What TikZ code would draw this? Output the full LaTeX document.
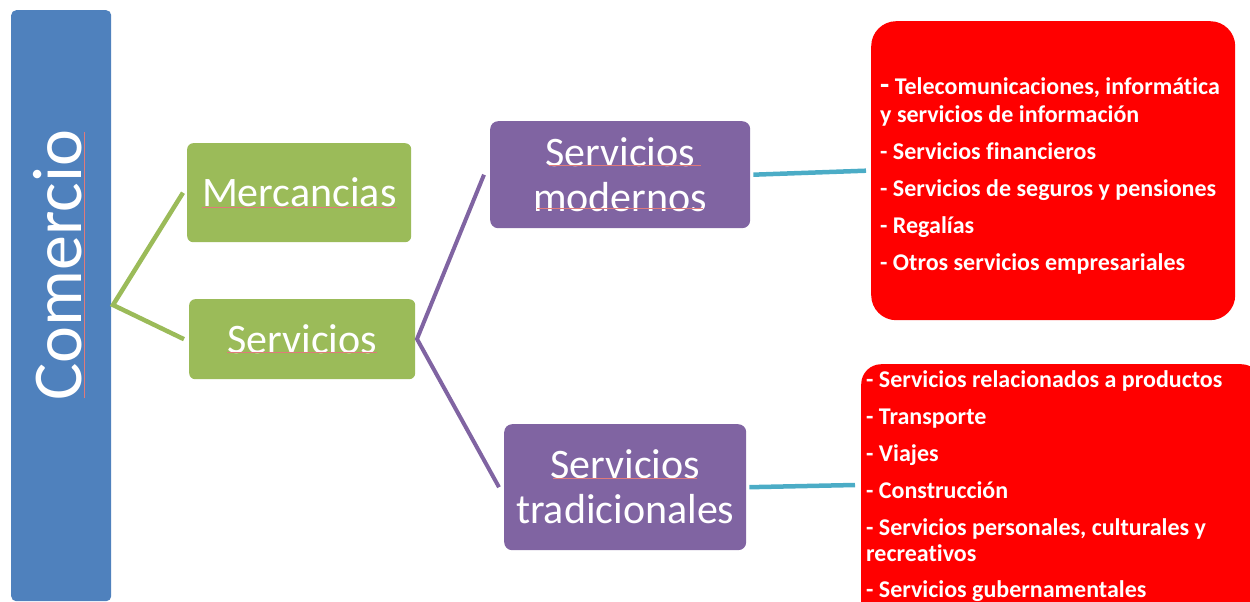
\documentclass[tikz,border=0pt]{standalone}
\usepackage{fontspec}
\setmainfont[Ligatures={NoCommon}]{Carlito}
\definecolor{cblue}{HTML}{4F81BD}
\definecolor{cgreen}{HTML}{9BBB59}
\definecolor{cpurple}{HTML}{8064A2}
\definecolor{cteal}{HTML}{4BACC6}
\definecolor{cred}{HTML}{FF0000}
\definecolor{squig}{HTML}{E07A7A}
\begin{document}
\begin{tikzpicture}[x=1pt,y=-1pt,
  box/.style={draw=none, text=white, inner sep=0pt, align=center, font=\fontsize{42}{45}\selectfont},
  greenbox/.style={box, fill=cgreen, rounded corners=6pt},
  purplebox/.style={box, fill=cpurple, rounded corners=8pt},
  redbox/.style={draw=none, fill=cred, inner sep=0pt},
  redtext/.style={text=white, inner sep=0pt, align=left, font=\bfseries\fontsize{24}{28}\selectfont},
  greenline/.style={draw=cgreen, line width=4.5pt},
  purpleline/.style={draw=cpurple, line width=4pt},
  tealline/.style={draw=cteal, line width=4.5pt},
  squiggle/.style={draw=squig, line width=0.8pt}]
\useasboundingbox (0,0) rectangle (1250,602);
% left box
\node[redbox, fill=cblue, rounded corners=5pt, minimum width=100pt, minimum height=591pt, anchor=north west] (com) at (11,10) {};
\node[text=white, inner sep=0pt, rotate=90, font=\fontsize{70}{70}\selectfont] (comt) at (58,265) {Comercio};
% green boxes
\node[greenbox, minimum width=224pt, minimum height=99pt, anchor=north west] (mer) at (187,143) {Mercancias};
\node[greenbox, minimum width=226pt, minimum height=80pt, anchor=north west] (ser) at (189,299) {Servicios};
% purple boxes
\node[purplebox, minimum width=260pt, minimum height=107pt, anchor=north west] (smod) at (490,121) {Servicios\\modernos};
\node[purplebox, minimum width=242pt, minimum height=126pt, anchor=north west] (stra) at (504,424) {Servicios\\tradicionales};
% red boxes
\node[redbox, rounded corners=25pt, minimum width=364pt, minimum height=299pt, anchor=north west] (r1) at (871,21) {};
\node[redbox, rounded corners=20pt, minimum width=400pt, minimum height=280pt, anchor=north west] (r2) at (861,364) {};
\node[redtext, anchor=north west] (r1t) at (880,77) {{\fontsize{30}{28}\selectfont -} Telecomunicaciones, informática\\y servicios de información\\[9pt]
- Servicios financieros\\[9pt]
- Servicios de seguros y pensiones\\[9pt]
- Regalías\\[9pt]
- Otros servicios empresariales};
\node[redtext, font=\bfseries\fontsize{24}{26}\selectfont, anchor=north west] (r2t) at (866,370) {- Servicios relacionados a productos\\[11pt]
- Transporte\\[11pt]
- Viajes\\[11pt]
- Construcción\\[11pt]
- Servicios personales, culturales y\\recreativos\\[10pt]
- Servicios gubernamentales};
% connectors
\coordinate (j1) at (113,305);
\coordinate (j2) at (417,339);
\draw[greenline] ([xshift=-4pt]mer.west) -- (j1) -- ([xshift=-5pt]ser.west);
\draw[purpleline] ([xshift=-6pt]smod.west) -- (j2) -- ([xshift=-5pt]stra.west);
\coordinate (t2) at (855,485);
\draw[tealline] ([xshift=3pt]smod.east) -- ([xshift=-5pt]r1.west);
\draw[tealline] ([xshift=3pt]stra.east) -- (t2);
% spell-check marks
\draw[squiggle] (84,132) -- (84,398);
\draw[squiggle] (202,207) -- (397,207);
\draw[squiggle] (227,352) -- (377,352);
\draw[squiggle] (549,165) -- (701,165);
\draw[squiggle] (537,208) -- (703,208);
\draw[squiggle] (553,478) -- (697,478);
\end{tikzpicture}
\end{document}
